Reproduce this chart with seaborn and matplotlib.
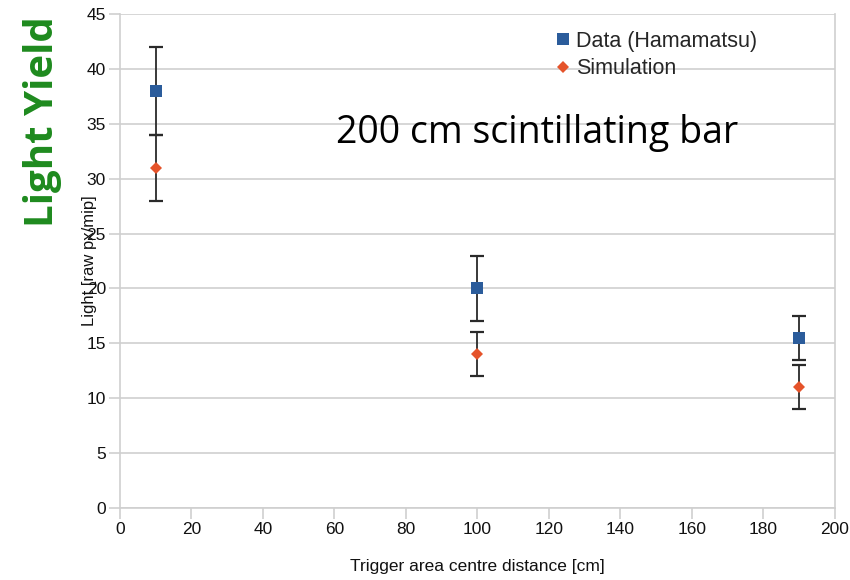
import numpy as np
import pandas as pd
import matplotlib
matplotlib.use("Agg")
import matplotlib.pyplot as plt
import seaborn as sns

# Measured and simulated light yield along a 200 cm bar
distance = [10, 100, 190]
data_yield = [38, 20, 15.5]
data_err = [4, 3, 2]
sim_yield = [31, 14, 11]
sim_err = [3, 2, 2]
series_names = ["Data (Hamamatsu)", "Simulation"]
x_ticks = [0, 20, 40, 60, 80, 100, 120, 140, 160, 180, 200]
y_ticks = [0, 5, 10, 15, 20, 25, 30, 35, 40, 45]

sns.set_theme(style="white")
plt.rcParams["font.family"] = ["Liberation Sans", "DejaVu Sans"]

df = pd.DataFrame({
    "distance": distance * 2,
    "yield": data_yield + sim_yield,
    "err": data_err + sim_err,
    "series": [series_names[0]] * 3 + [series_names[1]] * 3,
})

fig = plt.figure(figsize=(8.5, 5.8), dpi=100)
ax = fig.add_axes([0.141, 0.124, 0.841, 0.852])

colors = {series_names[0]: "#2b5c9b", series_names[1]: "#e5532a"}
markers = {series_names[0]: "s", series_names[1]: "D"}
sizes = {series_names[0]: 9, series_names[1]: 6.5}

# error bars first so markers sit on top
for name, grp in df.groupby("series", sort=False):
    ax.errorbar(grp["distance"], grp["yield"], yerr=grp["err"], fmt="none",
                ecolor="#2a2a2a", elinewidth=1.3, capsize=5, capthick=1.6,
                zorder=2)

for name, grp in df.groupby("series", sort=False):
    ax.plot(grp["distance"], grp["yield"], linestyle="none",
            marker=markers[name], markersize=sizes[name],
            color=colors[name], markeredgewidth=0, zorder=3, label=name)

ax.set_xlim(0, 200)
ax.set_ylim(0, 45)
ax.set_xticks(x_ticks)
ax.set_yticks(y_ticks)
ax.yaxis.grid(True, color="#cfcfcf", linewidth=1.2)
ax.xaxis.grid(False)
for side in ["left", "right", "bottom", "top"]:
    ax.spines[side].set_visible(True)
    ax.spines[side].set_color("#cfcfcf")
    ax.spines[side].set_linewidth(1.2)
ax.spines["top"].set_visible(False)

ax.tick_params(axis="both", which="both", length=8, width=1.2, color="#cfcfcf",
               labelsize=12.5, labelcolor="#111111", direction="out",
               bottom=True, left=True, pad=2)

ax.set_xlabel("Trigger area centre distance [cm]", fontsize=12.5, labelpad=16,
              color="#111111")
ax.set_ylabel("Light [raw px/mip]", fontsize=12, color="#111111")
ax.yaxis.set_label_coords(-0.032, 0.50)

leg = ax.legend(loc="upper left", bbox_to_anchor=(0.588, 0.992), frameon=False,
                fontsize=15.5, handletextpad=0.15, handlelength=0.9,
                borderaxespad=0.2, labelspacing=0.3)

ax.text(0.302, 0.759, "200 cm scintillating bar", transform=ax.transAxes,
        fontsize=27, color="black", va="center",
        family=["Open Sans", "DejaVu Sans"])

fig.text(0.05, 0.79, "Light Yield", rotation=90, ha="center", va="center",
         fontsize=29, fontweight="bold", color="#1e8a1e",
         family=["Open Sans", "DejaVu Sans"])

fig.savefig("out.png", dpi=100)
